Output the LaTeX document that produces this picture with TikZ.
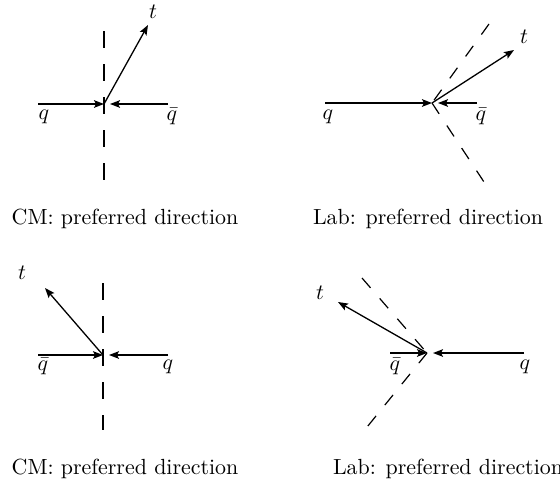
\documentclass[tikz,border=0pt]{standalone}
\usepackage{amsmath}
\usetikzlibrary{arrows.meta}
\tikzset{
    momarrow/.style={
        line width=0.65pt,
        black,
        -{Stealth[length=5pt, width=3.8pt, inset=1pt]}
    },
    % gestrichelte Schnittlinie
    cutline/.style={
        line width=0.6pt,
        black,
        dash pattern=on 8.5pt off 8pt
    },
    labcut/.style={
        line width=0.6pt,
        black,
        dash pattern=on 6.5pt off 7pt
    },
    lbl/.style={font=\fontsize{10.95}{13}\selectfont, inner sep=0pt},
    captext/.style={font=\fontsize{10.95}{13}\selectfont, inner sep=0pt}
}
\begin{document}
\begin{tikzpicture}[x=0.5pt,y=-0.5pt]
	\useasboundingbox (0,0) rectangle (560,487);
	
	\path
	(104,104) coordinate (v1)
	(38,104) coordinate (q1)
	(168,104) coordinate (qb1)
	(110,104) coordinate (qb1e)
	(148,25) coordinate (t1)
	(104,31) coordinate (c1a)
	(104,182) coordinate (c1b)
	
	(432,103) coordinate (v2)
	(325,103) coordinate (q2)
	(477,103) coordinate (qb2)
	(438,103) coordinate (qb2e)
	(514,50) coordinate (t2)
	(489,24) coordinate (c2a)
	(484,182) coordinate (c2b)
	
	(103,355) coordinate (v3)
	(38,355) coordinate (qb3)
	(168,355) coordinate (q3)
	(109,355) coordinate (q3e)
	(45,288) coordinate (t3)
	(103,283) coordinate (c3a)
	(103,430) coordinate (c3b)
	
	(427,353) coordinate (v4)
	(390,353) coordinate (qb4)
	(524,353) coordinate (q4)
	(433,353) coordinate (q4e)
	(338,302) coordinate (t4)
	(362,278) coordinate (c4a)
	(363,432) coordinate (c4b);
	
	% Schnittlinien
	\draw[cutline] (c1a) -- (c1b);
	\draw[labcut] (c2a) -- (v2);
	\draw[labcut] (v2) -- (c2b);
	\draw[cutline] (c3a) -- (c3b);
	\draw[labcut] (c4a) -- (v4);
	\draw[labcut] (v4) -- (c4b);
	
	% Impulse
	\draw[momarrow] (q1) -- (v1);
	\draw[momarrow] (qb1) -- (qb1e);
	\draw[momarrow] (v1) -- (t1);
	
	\draw[momarrow] (q2) -- (v2);
	\draw[momarrow] (qb2) -- (qb2e);
	\draw[momarrow] (v2) -- (t2);
	
	\draw[momarrow] (qb3) -- (v3);
	\draw[momarrow] (q3) -- (q3e);
	\draw[momarrow] (v3) -- (t3);
	
	\draw[momarrow] (qb4) -- (v4);
	\draw[momarrow] (q4) -- (q4e);
	\draw[momarrow] (v4) -- (t4);
	
	% Beschriftung
	\node[lbl] (lq1) at (44,117) {$q$};
	\node[lbl] (lqb1) at (172,116) {$\bar{q}$};
	\node[lbl] (lt1) at (153,12) {$t$};
	
	\node[lbl] (lq2) at (328,117) {$q$};
	\node[lbl] (lqb2) at (481,116) {$\bar{q}$};
	\node[lbl] (lt2) at (524,37) {$t$};
	
	\node[lbl] (lqb3) at (43,366) {$\bar{q}$};
	\node[lbl] (lq3) at (168,367) {$q$};
	\node[lbl] (lt3) at (22,273) {$t$};
	
	\node[lbl] (lqb4) at (395,366) {$\bar{q}$};
	\node[lbl] (lq4) at (525,367) {$q$};
	\node[lbl] (lt4) at (320,293) {$t$};
	
	\node[captext] (cap1) at (125,219) {CM: preferred direction};
	\node[captext] (cap2) at (428,219) {Lab: preferred direction};
	\node[captext] (cap3) at (125,469) {CM: preferred direction};
	\node[captext] (cap4) at (448,469) {Lab: preferred direction};
\end{tikzpicture}
\end{document}
